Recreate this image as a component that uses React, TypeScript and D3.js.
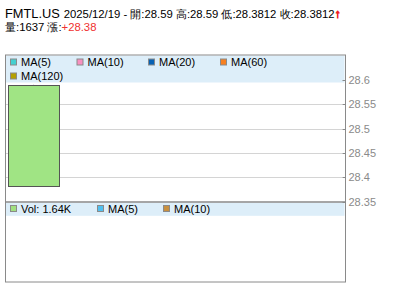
import React from "react";
import * as d3 from "d3";

const symbol = "FMTL.US";
const dates = ["2025/12/19"];
const opens = [28.59];
const highs = [28.59];
const lows = [28.3812];
const closes = [28.3812];
const volumes = [1637];
const changes = [28.38];
const priceTicks = [28.35, 28.4, 28.45, 28.5, 28.55, 28.6];
const priceTickLabels = ["28.35", "28.4", "28.45", "28.5", "28.55", "28.6"];
const mainLegend = ["MA(5)", "MA(10)", "MA(20)", "MA(60)", "MA(120)"];
const mainLegendColors = ["#44d0d0", "#f890c0", "#0862b4", "#f88020", "#b4a000"];
const volLegend = ["Vol: 1.64K", "MA(5)", "MA(10)"];
const volLegendColors = ["#a0e080", "#50c0f0", "#c89040"];

const W = 400;
const H = 301;
const left = 5.5;
const right = 345.5;
const top = 55;
const sep = 202;
const bottom = 282;

export default function App() {
  const y = d3.scaleLinear().domain([28.35, 28.65]).range([201.5, 55.7]);
  const x = d3
    .scaleBand<string>()
    .domain(dates)
    .range([left, left + 56.1])
    .paddingInner(0)
    .paddingOuter(0.053);

  const font = "'Liberation Sans', Arial, sans-serif";
  const mainLegendX = [10, 76.5, 148, 220, 10];
  const mainLegendY = [58.5, 58.5, 58.5, 58.5, 72.5];
  const volLegendX = [10, 97, 163];

  return (
    <svg
      width={W}
      height={H}
      style={{ position: "absolute", left: 0, top: 0, background: "#fff" }}
      fontFamily={font}
    >
      {/* Title */}
      <text x={5} y={17.5} fontSize={12.8} fill="#000">
        {symbol}
        <tspan fontSize={11.3} dx={4}>
          {`${dates[0]} - 開:${opens[0]} 高:${highs[0]} 低:${lows[0]} 收:${closes[0]}`}
        </tspan>
        <tspan fontSize={12} fill="#f02020" stroke="#f02020" strokeWidth={0.9} fontWeight="bold">↑</tspan>
      </text>
      <text x={5} y={30.5} fontSize={11.3} fill="#000">
        {`量:${volumes[0]} 漲:`}
        <tspan fill="#f03030">{`+${changes[0].toFixed(2)}`}</tspan>
      </text>

      {/* Main legend strip */}
      <rect x={left + 0.5} y={top + 0.5} width={right - left - 1.5} height={27} fill="#ddeef9" />
      {/* gridlines */}
      {priceTicks.slice(1, 5).map((t) => (
        <line key={t} x1={left} x2={right - 3} y1={Math.round(y(t)) + 0.5} y2={Math.round(y(t)) + 0.5} stroke="#d4d4d4" />
      ))}
      {/* candle */}
      {dates.map((d, i) => {
        const o = y(opens[i]);
        const c = y(closes[i]);
        const yt = Math.min(o, c);
        const yb = Math.max(o, c);
        const bx = x(d)!;
        return (
          <g key={d}>
            <line x1={bx + x.bandwidth() / 2} x2={bx + x.bandwidth() / 2} y1={y(highs[i])} y2={y(lows[i])} stroke="#555" />
            <rect x={Math.round(bx) + 0.5} y={Math.round(yt) + 0.5} width={Math.round(x.bandwidth())} height={Math.round(yb - yt)} fill="#a0e484" stroke="#555" />
          </g>
        );
      })}
      {/* main legend */}
      {mainLegend.map((l, i) => (
        <g key={l}>
          <rect x={mainLegendX[i] + 0.5} y={mainLegendY[i] + 0.5} width={6} height={6} fill={mainLegendColors[i]} stroke="#8a8a8a" />
          <text x={mainLegendX[i] + 11} y={mainLegendY[i] + 7} fontSize={11} fill="#000">{l}</text>
        </g>
      ))}

      {/* Volume legend strip */}
      <rect x={left + 0.5} y={sep + 0.8} width={right - left - 1.5} height={13} fill="#ddeef9" />
      {volLegend.map((l, i) => (
        <g key={l}>
          <rect x={volLegendX[i] + 0.5} y={205.5} width={6} height={6} fill={volLegendColors[i]} stroke="#8a8a8a" />
          <text x={volLegendX[i] + 11} y={213} fontSize={11} fill="#000">{l}</text>
        </g>
      ))}

      {/* Panel borders */}
      <rect x={left} y={top} width={right - left} height={bottom - top} fill="none" stroke="#8a8a8a" />
      <line x1={left} x2={right} y1={sep} y2={sep} stroke="#888" strokeWidth={1.6} />

      {/* right axis */}
      {priceTicks.map((t, i) => (
        <g key={t}>
          <line x1={right - 3} x2={right} y1={Math.round(y(t)) + 0.5} y2={Math.round(y(t)) + 0.5} stroke="#8a8a8a" />
          <text x={right + 3} y={y(t) + 4} fontSize={11} fill="#8a8a8a">{priceTickLabels[i]}</text>
        </g>
      ))}
    </svg>
  );
}
